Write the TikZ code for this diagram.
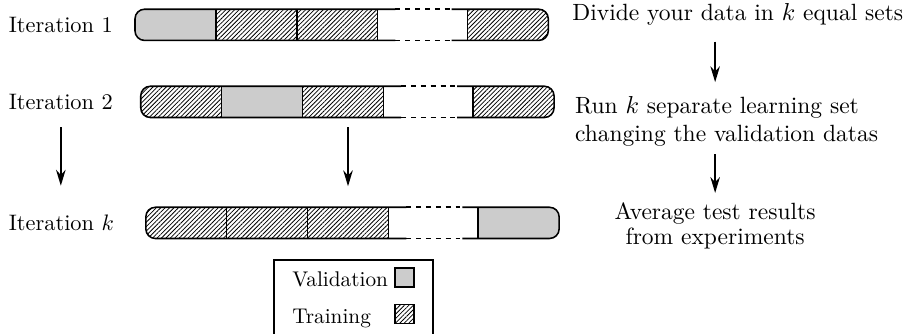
\documentclass[tikz,border=0pt]{standalone}
\usetikzlibrary{arrows.meta,patterns.meta}
\tikzset{
  seg/.style={minimum width=1.27cm,minimum height=0.49cm,inner sep=0pt,outer sep=0pt,anchor=west},
  valid/.style={fill=black!20},
  train/.style={pattern={Lines[angle=45,distance=1.4pt,line width=0.35pt]}},
  keybox/.style={draw,minimum size=0.3cm,inner sep=0pt},
  gapline/.style={dash pattern=on 2.2pt off 2.2pt},
  flow/.style={-{Stealth[length=2.5mm,width=1.5mm]}},
  steptext/.style={font=\fontsize{10.5pt}{12.6pt}\selectfont},
  keytext/.style={font=\fontsize{9.5pt}{11pt}\selectfont}
}
\begin{document}
\begin{tikzpicture}[line width=0.7pt]
        \useasboundingbox (0,0) rectangle (14.18,5.23);
        %% iteration labels
        \node[anchor=west] (it1) at (0.01,4.84) {Iteration 1};
        \node[anchor=west] (it2) at (0.01,3.63) {Iteration 2};
        \node[anchor=west] (itk) at (0.01,1.73) {Iteration $k$};
        %% the k-fold bars
        \foreach \row/\bx/\by/\val in {1/2.12/4.84/1, 2/2.21/3.63/2, 3/2.29/1.73/5} {
            \begin{scope}
                \clip[rounded corners=1.5mm] (\bx,\by-0.245) rectangle ++(6.49,0.49);
                \foreach \i/\dx in {1/0, 2/1.27, 3/2.54, 5/5.22} {
                    \ifnum\i=\val
                        \node[seg,valid] (bar\row\i) at (\bx+\dx,\by) {};
                    \else
                        \node[seg,train] (bar\row\i) at (\bx+\dx,\by) {};
                    \fi
                }
            \end{scope}
            \draw[rounded corners=1.5mm] ([xshift=2.8mm]bar\row3.north east) -- (bar\row1.north west)
                -- (bar\row1.south west) -- ([xshift=2.8mm]bar\row3.south east);
            \draw[rounded corners=1.5mm] ([xshift=-2.5mm]bar\row5.north west) -- (bar\row5.north east)
                -- (bar\row5.south east) -- ([xshift=-2.5mm]bar\row5.south west);
            \foreach \j in {1,2,3}
                \draw (bar\row\j.north east) -- (bar\row\j.south east);
            \draw (bar\row5.north west) -- (bar\row5.south west);
            %% missing folds
            \draw[gapline] ([xshift=2.8mm]bar\row3.north east) -- ([xshift=-2.5mm]bar\row5.north west);
            \draw[gapline] ([xshift=2.8mm]bar\row3.south east) -- ([xshift=-2.5mm]bar\row5.south west);
        }
        %% skipped iterations
        \draw[flow,shorten <=1.5mm,shorten >=3.3mm] (it2.south) -- (it2.south |- itk.north);
        \draw[flow,shorten <=1.5mm,shorten >=3.3mm] (bar23.south -| bar33.north) -- (bar33.north);
        %% steps
        \node[steptext,anchor=base west] (divide) at (8.86,4.91) {Divide your data in $k$ equal sets};
        \node[steptext,anchor=north west,align=left] (run) at (8.90,3.85) {Run $k$ separate learning set\\changing the validation datas};
        \node[anchor=north,align=center,font=\fontsize{10.5pt}{10.8pt}\selectfont] (avg) at (11.23,2.17) {Average test results\\from experiments};
        \draw[flow,shorten <=1.3mm,shorten >=0.9mm] (divide.south -| avg.north) -- (run.north -| avg.north);
        \draw[flow,shorten >=0.3mm] (run.south -| avg.north) -- (avg.north);
        %% legend
        \node[draw,anchor=north west,minimum width=2.5cm,minimum height=1.6cm,inner sep=0pt] (legend) at (4.29,1.16) {};
        \node[keytext,anchor=base west] (valtext) at (4.46,0.727) {Validation};
        \node[keybox,valid] (valkey) at (6.35,0.87) {};
        \node[keytext,anchor=base west] (traintext) at (4.46,0.157) {Training};
        \node[keybox,train] (trainkey) at (6.35,0.30) {};
\end{tikzpicture}
\end{document}
